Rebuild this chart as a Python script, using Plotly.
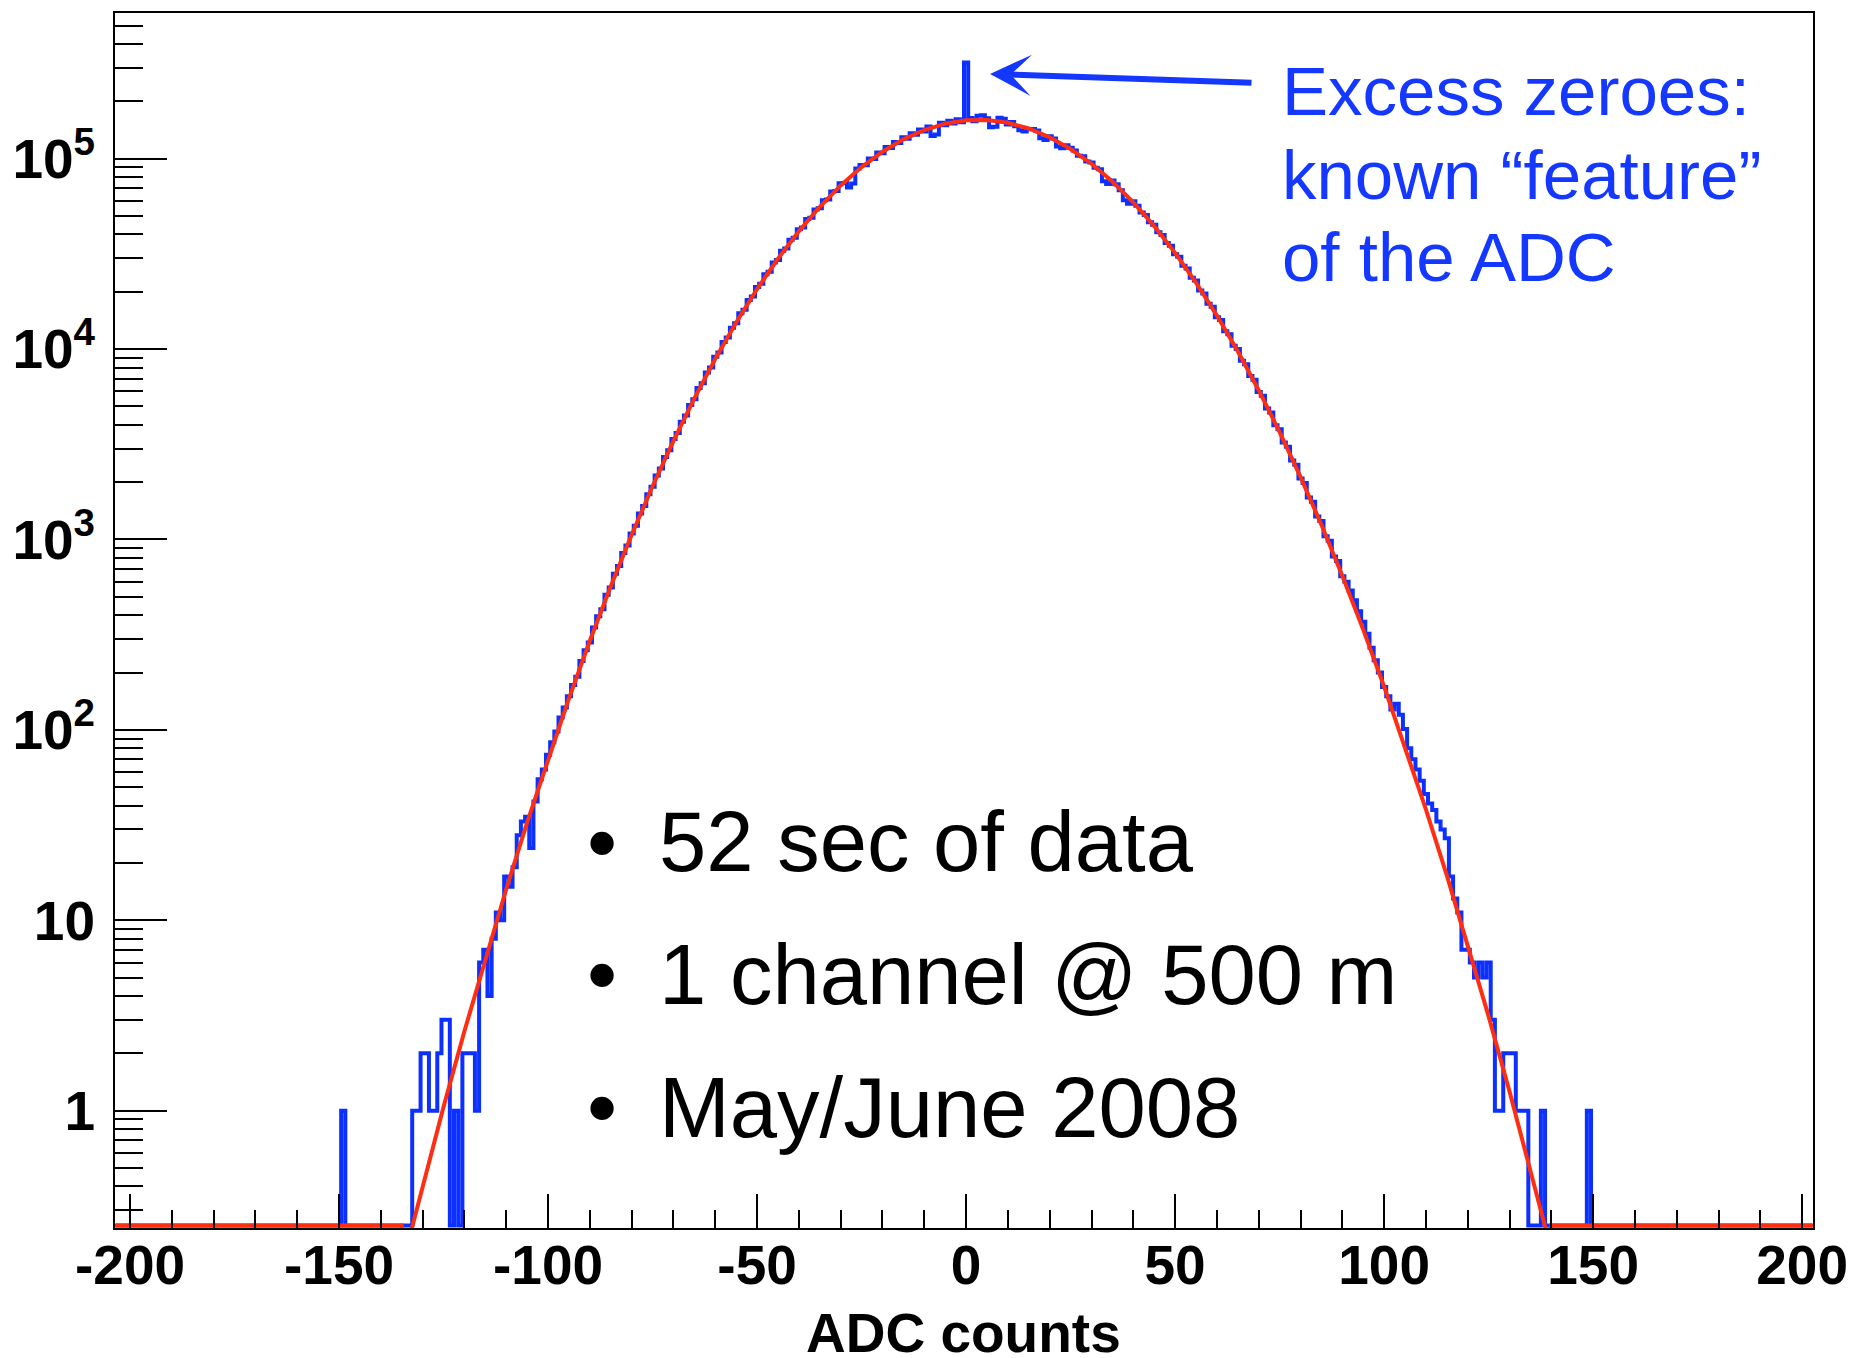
import numpy as np
import plotly.graph_objects as go

# ---------------- data ----------------
# histogram: 1-ADC-count bins centred on integers
hist_first_bin = -203
hist_last_bin = 202
core_first_bin = -132
core_counts = [
    1, 1, 2, 2, 1, 1, 2, 3, 3, 0,
    1, 0, 2, 2, 2, 1, 6, 7, 4, 8,
    11, 10, 17, 15, 19, 28, 33, 35, 24, 42,
    55, 62, 74, 86, 98, 116, 131, 150,
    172, 190, 230, 262, 288, 345, 395, 430, 512, 560,
    660, 725, 850, 930, 1075, 1180, 1370, 1500, 1730, 1890,
    2170, 2360, 2710, 2940, 3370, 3620, 4150, 4480, 5090, 5450,
    6240, 6620, 7530, 8010, 9100, 9600, 10900, 11500, 12950, 13650,
    15400, 16100, 18100, 18900, 21200, 22000, 24700, 25500, 28500, 29400,
    32800, 33700, 37500, 38400, 42600, 43500, 48200, 49000, 54100, 54900,
    60500, 61100, 67200, 67600, 74200, 74500, 70500, 74000, 88900, 92600,
    92300, 100200, 99600, 107800, 106800, 115200, 113900, 122500, 120800, 129500,
    127300, 136000, 133400, 142200, 138900, 147600, 131500, 134000, 154600, 150000,
    158200, 153000, 161000, 155300, 320000, 163500, 157000,
    168000, 169000, 163000, 146000, 147000, 164000, 162000, 151000, 156000, 148000,
    141000, 139000, 142500, 143000, 140500, 128000, 125500, 131000, 127500, 116000,
    113500, 117500, 114000, 110500, 103500, 103000, 96500, 95500, 89500, 87900,
    76000, 73500, 76800, 73300, 68200, 60500, 58000, 59800, 56600, 52200,
    50600, 46400, 44900, 41100, 39700, 36100, 34900, 31500, 30500, 27400,
    26500, 23700, 22900, 20300, 19600, 17300, 16700, 14700, 14200, 12400,
    11950, 10400, 10000, 8690, 8330, 7210, 6900, 5950, 5680, 4880,
    4650, 3980, 3790, 3230, 3070, 2600, 2470, 2090, 1980, 1660,
    1580, 1320, 1250, 1040, 985, 815, 770, 640, 600, 540,
    480, 420, 370, 320, 270, 232, 200, 168, 150, 128,
    137, 120, 101, 80, 70, 62, 54, 46, 41, 38,
    33, 30, 27, 17, 13, 11, 7, 7, 6, 5,
    6, 5, 6, 3, 1, 1, 2, 2, 2, 1, 1, 1, 0, 0, 0, 1,
]
extra_bins = [-149, 149]
extra_counts = [1, 1]

# gaussian fit curve, sampled every 5 ADC counts
fit_x = list(range(-135, 141, 5))
fit_y = [
    0.151, 0.406, 1.05, 2.62, 6.30, 14.6, 32.7, 70.5, 146.5, 293.8,
    568, 1058, 1903, 3298, 5510, 8880, 13800, 20670, 29870, 41600,
    55880, 72350, 90360, 108800, 126300, 141400, 152700, 158900, 159500, 154300,
    144000, 129600, 112400, 94070, 75880, 59010, 44260, 32000, 22320, 15010,
    9727, 6079, 3665, 2130, 1194, 645, 336.1, 168.9, 81.8, 38.2,
    17.2, 7.47, 3.13, 1.26, 0.492, 0.185,
]

x_tick_vals = [-200, -150, -100, -50, 0, 50, 100, 150, 200]
y_tick_vals = [1, 10, 100, 1000, 10000, 100000]
y_tick_text = ["1", "10", "10<sup>2</sup>", "10<sup>3</sup>", "10<sup>4</sup>", "10<sup>5</sup>"]
y_minor_vals = [m * 10.0 ** e for e in range(-1, 6) for m in range(2, 10)
                if 0.25 <= m * 10.0 ** e <= 5.5e5]

bullet_lines = ["52 sec of data", "1 channel @ 500 m", "May/June 2008"]
note_lines = ["Excess zeroes:", "known \u201cfeature\u201d", "of the ADC"]
x_title = "ADC counts"

X_MIN, X_MAX = -203.6, 202.6
Y_MIN, Y_MAX = 0.242, 10 ** 5.765
Y_FLOOR = Y_MIN * 1.03

# ---------------- geometry (pixels) ----------------
W, H = 1859, 1358
PL, PR, PT, PB = 115, 1813, 11, 1228


def px(xp):
    return (xp - PL) / (PR - PL)


def py(yp):
    return (PB - yp) / (PB - PT)


BLUE = "#0b30ff"
TXTBLUE = "#1438ff"
RED = "#ff2e12"
FONT = "Liberation Sans, Arial, Helvetica, sans-serif"

# ---------------- build histogram ----------------
centers = np.arange(hist_first_bin, hist_last_bin + 1)
counts = np.zeros(len(centers))
i0 = core_first_bin - hist_first_bin
counts[i0:i0 + len(core_counts)] = core_counts
for b, c in zip(extra_bins, extra_counts):
    counts[b - hist_first_bin] = c

x_step = np.append(centers - 0.5, centers[-1] + 0.5)
y_step = np.maximum(np.append(counts, counts[-1]), Y_FLOOR)

fx = [X_MIN, fit_x[0]] + fit_x + [fit_x[-1], X_MAX]
fy = [Y_FLOOR, Y_FLOOR] + fit_y + [Y_FLOOR, Y_FLOOR]

fig = go.Figure()
fig.add_trace(go.Scatter(x=x_step, y=y_step, mode="lines", line_shape="hv",
                         line=dict(color=BLUE, width=4), hoverinfo="skip",
                         showlegend=False))
fig.add_trace(go.Scatter(x=fx, y=fy, mode="lines",
                         line=dict(color=RED, width=4), hoverinfo="skip",
                         showlegend=False))

tickfont = dict(family=FONT, size=55, color="black", weight="bold")

fig.update_layout(
    width=W, height=H,
    margin=dict(l=PL, r=W - PR, t=PT, b=H - PB, pad=0),
    paper_bgcolor="white", plot_bgcolor="white",
    showlegend=False,
    xaxis=dict(range=[X_MIN, X_MAX], showgrid=False, zeroline=False,
               showline=True, linecolor="black", linewidth=2, mirror=True,
               ticks="inside", ticklen=34, tickwidth=2, tickcolor="black",
               tickmode="array", tickvals=x_tick_vals,
               ticktext=[str(v) for v in x_tick_vals],
               minor=dict(ticks="inside", ticklen=18, tickwidth=2,
                          tickcolor="black", dtick=10, tick0=0, showgrid=False),
               tickfont=tickfont, ticklabelstandoff=-12),
    yaxis=dict(type="log", range=[np.log10(Y_MIN), np.log10(Y_MAX)],
               showgrid=False, zeroline=False,
               showline=True, linecolor="black", linewidth=2, mirror=True,
               ticks="inside", ticklen=52, tickwidth=2, tickcolor="black",
               tickmode="array", tickvals=y_tick_vals, ticktext=y_tick_text,
               minor=dict(ticks="inside", ticklen=28, tickwidth=2,
                          tickcolor="black", tickmode="array",
                          tickvals=y_minor_vals, showgrid=False),
               tickfont=tickfont, ticklabelstandoff=7),
)

annotations = []
# x title
annotations.append(dict(text=x_title, xref="paper", yref="paper",
                        x=px(963), y=py(1333), xanchor="center", yanchor="middle",
                        showarrow=False,
                        font=dict(family=FONT, size=55, color="black", weight="bold")))
# bullet list
for yc, line in zip([841, 974, 1107], bullet_lines):
    annotations.append(dict(text="\u2022", xref="paper", yref="paper",
                            x=px(602), y=py(yc), xanchor="center", yanchor="middle",
                            showarrow=False,
                            font=dict(family=FONT, size=86, color="black")))
    annotations.append(dict(text=line, xref="paper", yref="paper",
                            x=px(657), y=py(yc), xanchor="left", yanchor="middle",
                            showarrow=False,
                            font=dict(family=FONT, size=85, color="black")))
# blue note
for yc, line in zip([90, 174, 256], note_lines):
    annotations.append(dict(text=line, xref="paper", yref="paper",
                            x=px(1280), y=py(yc), xanchor="left", yanchor="middle",
                            showarrow=False,
                            font=dict(family=FONT, size=69, color=TXTBLUE)))
# arrow pointing at the zero spike
annotations.append(dict(text="", xref="paper", yref="paper",
                        x=px(990), y=py(72), ax=263, ay=9,
                        showarrow=True, arrowhead=3, arrowsize=1.15,
                        arrowwidth=6, arrowcolor=TXTBLUE, standoff=0,
                        startstandoff=0))
fig.update_layout(annotations=annotations)

fig.write_html("out.html")
